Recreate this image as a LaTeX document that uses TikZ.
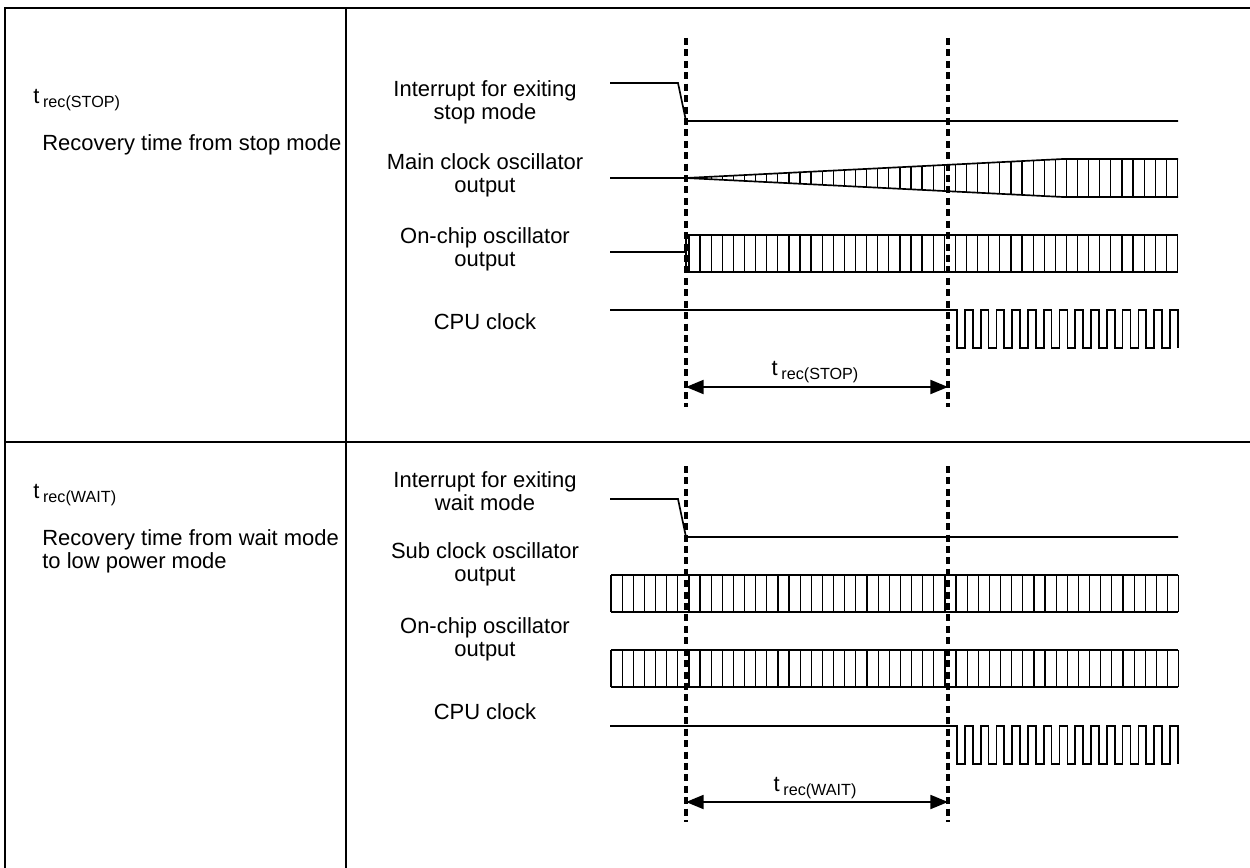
\documentclass[tikz,border=0pt]{standalone}
\usepackage{fontspec}
\setmainfont{Liberation Sans}
\usetikzlibrary{arrows.meta}

\newcommand{\trec}[1]{t\,\raisebox{-2.6pt}{\fontsize{9.2}{10}\selectfont rec(#1)}}

\begin{document}
\begin{tikzpicture}[x=0.02cm, y=-0.02cm,
    frame/.style={line width=1.1pt},
    wave/.style={line width=0.95pt},
    hatch/.style={line width=0.7pt},
    marker/.style={line width=1.8pt, dash pattern=on 4pt off 2.5pt},
    span/.style={line width=0.95pt, {Triangle[length=10pt,width=8pt]}-{Triangle[length=10pt,width=8pt]}},
    lbl/.style={align=center, inner sep=0pt, font=\fontsize{12.5}{13.2}\selectfont},
    note/.style={anchor=west, align=left, inner sep=0pt, font=\fontsize{12.5}{13.2}\selectfont}]
    \useasboundingbox (0,0) rectangle (1250,868);

    % table
    \draw[frame] (5,8) rectangle (1253,880);
    \draw[frame] (346,8) -- (346,880);
    \draw[frame] (5,442) -- (1253,442);

    % left column
    \node[note] (symA) at (33,100) {\trec{STOP}};
    \node[note] (textA) at (42,145) {Recovery time from stop mode};
    \node[note] (symB) at (33,495) {\trec{WAIT}};
    \node[note] (textB) at (42,551) {Recovery time from wait mode\\to low power mode};

    % signal names
    \node[lbl] (intA) at (485,102) {Interrupt for exiting\\stop mode};
    \node[lbl] (mainA) at (485,175) {Main clock oscillator\\output};
    \node[lbl] (chipA) at (485,249) {On-chip oscillator\\output};
    \node[lbl] (cpuA) at (485,322) {CPU clock};
    \node[lbl] (intB) at (485,491) {Interrupt for exiting\\wait mode};
    \node[lbl] (subB) at (485,564) {Sub clock oscillator\\output};
    \node[lbl] (chipB) at (485,639) {On-chip oscillator\\output};
    \node[lbl] (cpuB) at (485,712) {CPU clock};

    % stop mode
    \draw[wave] (610,83) -- (678,83) -- (686,121) -- (1178,121);
    \draw[wave] (610,178) -- (686,178) -- (1063,159) -- (1178,159);
    \draw[wave] (686,178) -- (1063,197) -- (1178,197);
    \foreach \k in {0,...,44} {
      \pgfmathsetmacro\xx{689+11.1*\k}
      \pgfmathsetmacro\hh{min(19,19*(\xx-686)/377)}
      \draw[hatch] (\xx,178-\hh) -- (\xx,178+\hh);
    }
    \draw[wave] (610,252) -- (686,252);
    \draw[wave] (1178,235) -- (686,235) -- (686,272) -- (1178,272);
    \foreach \k in {0,...,44}
      \draw[hatch] (689+11.1*\k,235) -- (689+11.1*\k,272);
    \draw[wave] (610,310) -- (957,310)
      \foreach \k in {1,...,14} { -- ++(0,38) -- ++(7.885,0) -- ++(0,-38) -- ++(7.885,0) }
      -- ++(0,38);

    % wait mode
    \draw[wave] (610,499) -- (678,499) -- (686,537) -- (1178,537);
    \draw[wave] (611,575) -- (1178,575) (611,612) -- (1178,612);
    \draw[wave] (611,650) -- (1178,650) (611,687) -- (1178,687);
    \foreach \k in {0,...,51} {
      \draw[hatch] (611+11.13*\k,575) -- (611+11.13*\k,612);
      \draw[hatch] (611+11.13*\k,650) -- (611+11.13*\k,687);
    }
    \draw[wave] (610,726) -- (957,726)
      \foreach \k in {1,...,14} { -- ++(0,38) -- ++(7.885,0) -- ++(0,-38) -- ++(7.885,0) }
      -- ++(0,38);

    % timing marks
    \coordinate (startA) at (686,387);
    \coordinate (endA) at (948,387);
    \coordinate (startB) at (686,802);
    \coordinate (endB) at (948,802);
    \draw[marker] (686,38) -- (686,407) (948,38) -- (948,407);
    \draw[marker] (686,466) -- (686,822) (948,466) -- (948,822);
    \draw[span] (startA) -- (endA);
    \draw[span] (startB) -- (endB);
    \node[lbl] (trecA) at (815,372) {\trec{STOP}};
    \node[lbl] (trecB) at (815,788) {\trec{WAIT}};
\end{tikzpicture}
\end{document}
